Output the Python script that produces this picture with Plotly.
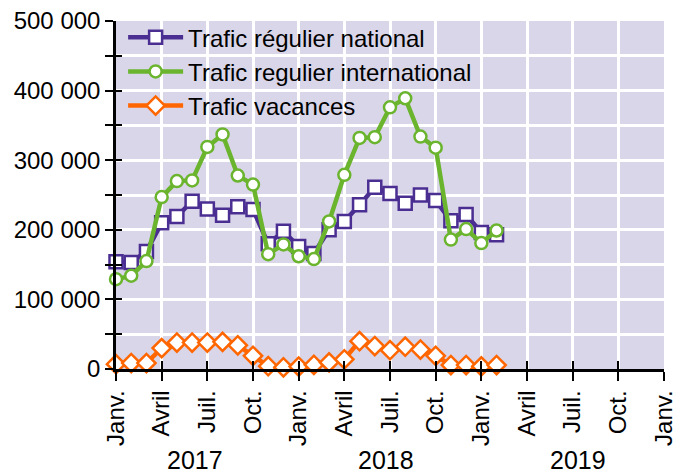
import plotly.graph_objects as go

# ---- data ----
months = ["2017-01","2017-02","2017-03","2017-04","2017-05","2017-06","2017-07","2017-08",
          "2017-09","2017-10","2017-11","2017-12","2018-01","2018-02","2018-03","2018-04",
          "2018-05","2018-06","2018-07","2018-08","2018-09","2018-10","2018-11","2018-12",
          "2019-01","2019-02"]
national = [154000, 153000, 169000, 210000, 219000, 241000, 230000, 221000, 233000, 229000,
            180000, 198000, 176000, 166000, 200000, 212000, 236000, 261000, 252000, 238000,
            250000, 242000, 213000, 222000, 196000, 193000]
international = [129000, 134000, 155000, 247000, 270000, 271000, 319000, 337000, 278000, 265000,
                 165000, 179000, 162000, 158000, 212000, 279000, 332000, 333000, 376000, 389000,
                 334000, 318000, 186000, 201000, 181000, 199000]
vacances = [7000, 8500, 8500, 30000, 38000, 38000, 38000, 39000, 34000, 19000,
            4000, 2500, 3500, 6000, 9500, 14000, 40000, 33000, 27000, 32000,
            28000, 19000, 5700, 5700, 3800, 5700]
series_names = ["Trafic régulier national", "Trafic regulier international", "Trafic vacances"]
x_tick_labels = ["Janv.", "Avril", "Juil.", "Oct."] * 3 + ["Janv."]
years = ["2017", "2018", "2019"]
y_tick_values = list(range(0, 500001, 100000))

# month index on a uniform scale
x_index = [(int(m[:4]) - 2017) * 12 + int(m[5:]) - 1 for m in months]
x_tick_values = list(range(0, 37, 3))

colors = ["#4b2e92", "#6ab42e", "#ff6600"]
symbols = ["square", "circle", "diamond"]
sizes = [13, 12, 14]
FONT = "Liberation Sans, Arial, sans-serif"

fig = go.Figure()
for name, vals, c, s, sz in zip(series_names, [national, international, vacances], colors, symbols, sizes):
    fig.add_trace(go.Scatter(
        x=x_index, y=vals, name=name, mode="lines+markers",
        line=dict(color=c, width=4.5),
        marker=dict(symbol=s, size=sz, color="white", line=dict(color=c, width=2.5)),
        cliponaxis=False,
    ))
# empty trace to anchor the overlay axes (inner half of the crossing ticks)
fig.add_trace(go.Scatter(x=[], y=[], xaxis="x2", yaxis="y2", showlegend=False, hoverinfo="skip"))

fig.update_layout(
    width=681, height=466,
    margin=dict(l=108, r=25, t=13, b=105, autoexpand=False),
    paper_bgcolor="white", plot_bgcolor="#dad6e9",
    separators=", ",
    font=dict(family=FONT, size=24, color="black"),
    showlegend=True,
    legend=dict(x=0.013, y=1.017, xanchor="left", yanchor="top", bgcolor="rgba(0,0,0,0)",
                font=dict(size=24), tracegroupgap=0, itemwidth=55),
    xaxis=dict(range=[0, 36], tickmode="array", tickvals=x_tick_values, ticktext=x_tick_labels,
               tickangle=-90, ticks="outside", ticklen=9, tickwidth=2, tickcolor="black",
               showgrid=True, gridcolor="white", gridwidth=2.5, zeroline=False, automargin=False,
               ticklabeloverflow="allow",
               showline=True, linecolor="black", linewidth=2.5, tickfont=dict(size=24)),
    yaxis=dict(range=[0, 500000], tickmode="array", tickvals=y_tick_values, tickformat=",d",
               ticks="outside", ticklen=8, tickwidth=2, tickcolor="black", automargin=False,
               ticklabeloverflow="allow",
               minor=dict(dtick=50000, ticks="outside", ticklen=8, tickwidth=2, tickcolor="black",
                          showgrid=True, gridcolor="white", gridwidth=2.5),
               showgrid=True, gridcolor="white", gridwidth=2.5, zeroline=False,
               showline=True, linecolor="black", linewidth=2.5, tickfont=dict(size=24)),
    xaxis2=dict(overlaying="x", range=[0, 36], tickmode="array", tickvals=x_tick_values,
                showticklabels=False, ticks="inside", ticklen=8, tickwidth=2, tickcolor="black",
                showgrid=False, zeroline=False, side="bottom", anchor="y2", automargin=False),
    yaxis2=dict(overlaying="y", range=[0, 500000], dtick=50000, showticklabels=False,
                ticks="inside", ticklen=6, tickwidth=2, tickcolor="black", automargin=False,
                showgrid=False, zeroline=False, side="left", anchor="x2"),
)

year_pos = [5.2, 17.75, 30.35]
for yr, xp in zip(years, year_pos):
    fig.add_annotation(x=xp, y=-0.262, xref="x", yref="paper", text=yr,
                       showarrow=False, xanchor="center", yanchor="middle",
                       font=dict(size=25, family=FONT))

fig.write_html("out.html")
